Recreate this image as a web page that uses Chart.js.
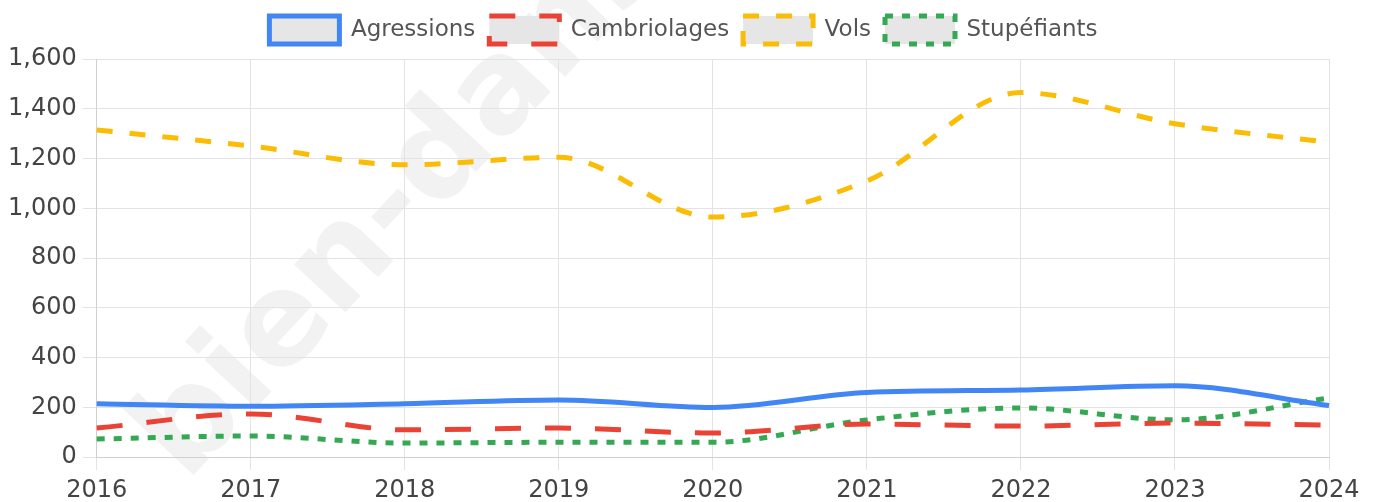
<!DOCTYPE html>
<html lang="fr">
<head>
    <meta charset="UTF-8">
    <title>Délinquance</title>
    <style>
        html, body { margin: 0; padding: 0; background: #fff; }
        #wrap { position: relative; width: 1377px; height: 502px; }
    </style>
</head>
<body>
    <div id="wrap">
        <canvas id="graphique" width="1377" height="502"></canvas>
    </div>

    <script src="https://cdn.jsdelivr.net/npm/chart.js"></script>
    <script>
        // Données
        const annees = ['2016', '2017', '2018', '2019', '2020', '2021', '2022', '2023', '2024'];
        const agressions = [215, 205, 215, 230, 200, 260, 270, 287, 208];
        const cambriolages = [117, 174, 110, 117, 97, 133, 125, 137, 129];
        const vols = [1315, 1250, 1175, 1205, 965, 1110, 1465, 1340, 1265];
        const stupefiants = [73, 85, 57, 60, 60, 150, 198, 150, 238];

        const police = 'DejaVu Sans';

        // filigrane en fond
        const filigrane = {
            id: 'filigrane',
            beforeDraw(chart) {
                const ctx = chart.ctx;
                ctx.save();
                ctx.translate(162, 460);
                ctx.rotate(-47 * Math.PI / 180);
                ctx.font = 'bold 128px ' + police;
                ctx.fillStyle = '#f2f2f2';
                ctx.fillText('bien-dans-ma-ville', 0, 0);
                ctx.restore();
            }
        };

        // remonte un peu la légende (on agrandit sa hauteur)
        const legendeHaute = {
            id: 'legendeHaute',
            beforeLayout(chart) {
                const lg = chart.legend;
                if (lg && !lg._rehausse) {
                    const fitOrig = lg.fit;
                    lg.fit = function () {
                        fitOrig.call(this);
                        this.height += 5;
                    };
                    lg._rehausse = true;
                }
            }
        };

        const ctx = document.getElementById('graphique').getContext('2d');
        const graphique = new Chart(ctx, {
            type: 'line',
            data: {
                labels: annees,
                datasets: [
                    {
                        label: 'Agressions',
                        data: agressions,
                        borderColor: '#4285f4',
                        backgroundColor: '#e6e6e6',
                    },
                    {
                        label: 'Cambriolages',
                        data: cambriolages,
                        borderColor: '#ea4335',
                        backgroundColor: '#e6e6e6',
                        borderDash: [26, 24],
                    },
                    {
                        label: 'Vols',
                        data: vols,
                        borderColor: '#fbbc04',
                        backgroundColor: '#e6e6e6',
                        borderDash: [16, 17],
                    },
                    {
                        label: 'Stupéfiants',
                        data: stupefiants,
                        borderColor: '#34a853',
                        backgroundColor: '#e6e6e6',
                        borderDash: [8, 9],
                    }
                ]
            },
            options: {
                responsive: false,
                animation: false,
                elements: {
                    line: { borderWidth: 5, cubicInterpolationMode: 'monotone' },
                    point: { radius: 0 }
                },
                layout: { padding: { top: 0, right: 12, left: 2, bottom: -9 } },
                plugins: {
                    legend: {
                        position: 'top',
                        labels: {
                            font: { family: police, size: 23 },
                            color: '#555',
                            boxWidth: 70,
                            boxHeight: 28,
                            padding: 14
                        }
                    },
                    tooltip: { enabled: false }
                },
                scales: {
                    x: {
                        grid: { color: '#e3e3e3', tickLength: 13 },
                        border: { color: '#d0d0d0' },
                        ticks: { font: { family: police, size: 24 }, color: '#444', padding: 6, maxRotation: 0 },
                        afterFit(scale) { scale.paddingRight = 48; }
                    },
                    y: {
                        min: 0,
                        max: 1600,
                        grid: { color: '#e3e3e3', tickLength: 14 },
                        border: { color: '#d0d0d0' },
                        ticks: { stepSize: 200, font: { family: police, size: 24 }, color: '#444', padding: 6 },
                        afterFit(scale) { scale.paddingTop = 59; }
                    }
                }
            },
            plugins: [filigrane, legendeHaute]
        });
    </script>
</body>
</html>
